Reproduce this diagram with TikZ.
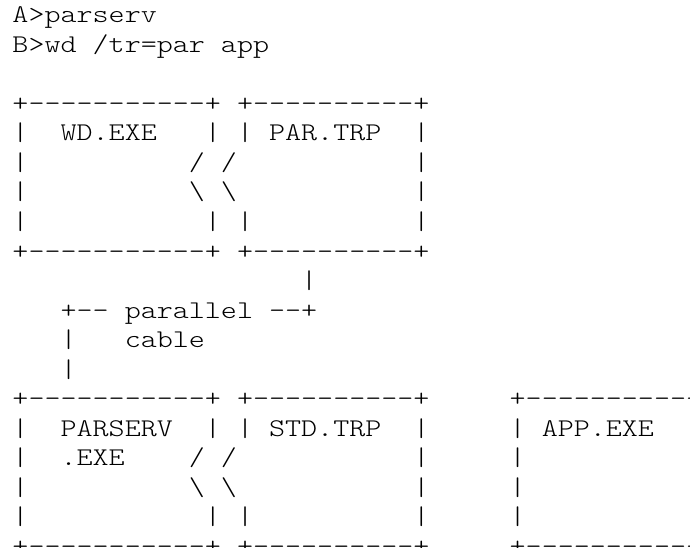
\documentclass[tikz,border=0pt]{standalone}
\usepackage{fontspec}
\newfontfamily\asciifont{Latin Modern Mono Light}
\tikzset{asciirow/.style={anchor=base west,inner sep=0pt,outer sep=0pt,xscale=1.198,transform shape,font=\asciifont\fontsize{25.5}{29.5}\selectfont}}
\newcommand{\trow}[2]{\node[asciirow] (row#1) at (12.5,{-(23+29.5*(#1-1))}) {#2};}
\newcommand{\bs}{\textbackslash}
\begin{document}
\begin{tikzpicture}[x=1pt,y=1pt]
\useasboundingbox (0,0) rectangle (690,-548);
\clip (0,0) rectangle (690,-548);
\fill[white] (0,0) rectangle (690,-548);
\trow{1}{A>parserv}
\trow{2}{B>wd~/tr=par~app}
\trow{4}{+-{}-{}-{}-{}-{}-{}-{}-{}-{}-{}-+~+-{}-{}-{}-{}-{}-{}-{}-{}-{}-+}
\trow{5}{|~~WD.EXE~~~|~|~PAR.TRP~~|}
\trow{6}{|~~~~~~~~~~/~/~~~~~~~~~~~|}
\trow{7}{|~~~~~~~~~~\bs{}~\bs{}~~~~~~~~~~~|}
\trow{8}{|~~~~~~~~~~~|~|~~~~~~~~~~|}
\trow{9}{+-{}-{}-{}-{}-{}-{}-{}-{}-{}-{}-+~+-{}-{}-{}-{}-{}-{}-{}-{}-{}-+}
\trow{10}{~~~~~~~~~~~~~~~~~~|}
\trow{11}{~~~+-{}-~parallel~-{}-+}
\trow{12}{~~~|~~~cable}
\trow{13}{~~~|}
\trow{14}{+-{}-{}-{}-{}-{}-{}-{}-{}-{}-{}-+~+-{}-{}-{}-{}-{}-{}-{}-{}-{}-+~~~~~+-{}-{}-{}-{}-{}-{}-{}-{}-{}-{}-{}-}
\trow{15}{|~~PARSERV~~|~|~STD.TRP~~|~~~~~|~APP.EXE}
\trow{16}{|~~.EXE~~~~/~/~~~~~~~~~~~|~~~~~|}
\trow{17}{|~~~~~~~~~~\bs{}~\bs{}~~~~~~~~~~~|~~~~~|}
\trow{18}{|~~~~~~~~~~~|~|~~~~~~~~~~|~~~~~|}
\trow{19}{+-{}-{}-{}-{}-{}-{}-{}-{}-{}-{}-+~+-{}-{}-{}-{}-{}-{}-{}-{}-{}-+~~~~~+-{}-{}-{}-{}-{}-{}-{}-{}-{}-{}-{}-}
\end{tikzpicture}
\end{document}
